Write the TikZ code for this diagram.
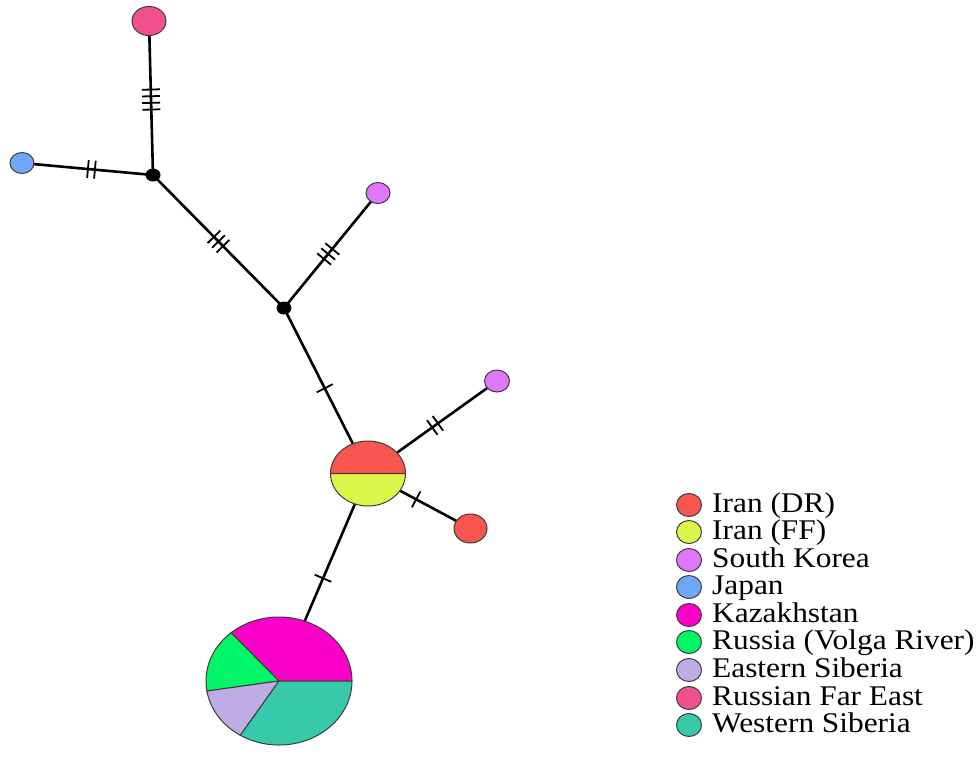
\documentclass[tikz,border=0pt]{standalone}
\usepackage{fontspec}
\setmainfont{Liberation Serif}
\usetikzlibrary{shapes.geometric,decorations.markings,backgrounds}
\definecolor{cDR}{RGB}{247,86,80}
\definecolor{cFF}{RGB}{220,246,76}
\definecolor{cSK}{RGB}{224,118,248}
\definecolor{cJP}{RGB}{112,166,246}
\definecolor{cKZ}{RGB}{250,0,200}
\definecolor{cRV}{RGB}{0,246,102}
\definecolor{cES}{RGB}{192,172,228}
\definecolor{cRFE}{RGB}{242,80,140}
\definecolor{cWS}{RGB}{56,200,170}
\definecolor{cOut}{RGB}{60,60,60}
\newcommand\legfont{\fontsize{28.5}{30}\selectfont}
\begin{document}
\begin{tikzpicture}[x=1pt,y=1pt]
\useasboundingbox (0,0) rectangle (980,-761);
\tikzset{
  hap/.style={ellipse, draw=cOut, line width=1pt, inner sep=0pt},
  med/.style={ellipse, fill=black, inner sep=0pt, minimum width=15, minimum height=13},
  edge/.style={line width=2.6pt, black},
  tk/.style={line width=1.8pt, black},
  ticksA/.style={postaction={decorate, decoration={markings,
     mark=at position #1 with {\draw[tk] (0,-9)--(0,9);}}}},
  ticksB/.style={postaction={decorate, decoration={markings,
     mark=at position #1 with {\draw[tk] (-3.5,-9)--(-3.5,9) (3.5,-9)--(3.5,9);}}}},
  ticksC/.style={postaction={decorate, decoration={markings,
     mark=at position #1 with {\draw[tk] (-6.5,-9)--(-6.5,9) (0,-9)--(0,9) (6.5,-9)--(6.5,9);}}}},
  ticksD/.style={postaction={decorate, decoration={markings,
     mark=at position #1 with {\draw[tk] (-10,-9)--(-10,9) (-3.3,-9)--(-3.3,9) (3.3,-9)--(3.3,9) (10,-9)--(10,9);}}}},
  slice/.style={draw=cOut, line width=1pt},
}
% haplotype nodes
\node[hap, fill=cRFE, minimum width=34, minimum height=29] (rfe) at (149,-21) {};
\node[hap, fill=cJP, minimum width=24, minimum height=21] (jp) at (22,-163) {};
\node[med] (m1) at (153,-175) {};
\node[hap, fill=cSK, minimum width=24, minimum height=21] (sk1) at (378,-193) {};
\node[med] (m2) at (284,-308) {};
\node[hap, fill=cSK, minimum width=25, minimum height=22] (sk2) at (497,-381) {};
\node[hap, fill=cDR, minimum width=33, minimum height=29] (dr) at (470.5,-528.5) {};
% Iran central (split)
\node[ellipse, minimum width=75, minimum height=65, inner sep=0pt] (iran) at (368,-473.5) {};
\filldraw[slice, fill=cDR] (iran.center) -- ++(0:37.5 and 32.5) arc[start angle=0, end angle=180, x radius=37.5, y radius=32.5] -- cycle;
\filldraw[slice, fill=cFF] (iran.center) -- ++(180:37.5 and 32.5) arc[start angle=180, end angle=360, x radius=37.5, y radius=32.5] -- cycle;
% big pie
\node[ellipse, minimum width=146, minimum height=128, inner sep=0pt] (big) at (279,-681) {};
\filldraw[slice, fill=cKZ] (big.center) -- ++(0:73 and 64) arc[start angle=0, end angle=131, x radius=73, y radius=64] -- cycle;
\filldraw[slice, fill=cRV] (big.center) -- ++(131:73 and 64) arc[start angle=131, end angle=189, x radius=73, y radius=64] -- cycle;
\filldraw[slice, fill=cES] (big.center) -- ++(189:73 and 64) arc[start angle=189, end angle=238, x radius=73, y radius=64] -- cycle;
\filldraw[slice, fill=cWS] (big.center) -- ++(238:73 and 64) arc[start angle=238, end angle=360, x radius=73, y radius=64] -- cycle;
% edges
\begin{scope}[on background layer]
\draw[edge, ticksD=0.51] (rfe.center) -- (m1.center);
\draw[edge, ticksB=0.53] (jp.center) -- (m1.center);
\draw[edge, ticksC=0.5] (m1.center) -- (m2.center);
\draw[edge, ticksC=0.47] (m2.center) -- (sk1.center);
\draw[edge, ticksA=0.485] (m2.center) -- (iran.center);
\draw[edge, ticksB=0.52] (iran.center) -- (sk2.center);
\draw[edge, ticksA=0.47] (iran.center) -- (dr.center);
\draw[edge, ticksA=0.505] (iran.center) -- (big.center);
\end{scope}
% legend
\foreach \c/\t/\y [count=\i] in {cDR/Iran (DR)/505, cFF/Iran (FF)/532, cSK/South Korea/560, cJP/Japan/587, cKZ/Kazakhstan/615, cRV/Russia (Volga River)/642, cES/Eastern Siberia/670, cRFE/Russian Far East/698, cWS/Western Siberia/725}{
  \node[hap, fill=\c, minimum width=25, minimum height=23] (lc\i) at (689,-\y) {};
  \node[anchor=base west, font=\legfont, inner sep=0pt, xscale=1.1, transform shape] (lt\i) at (712,{-\y-7}) {\t};
}
\end{tikzpicture}
\end{document}
